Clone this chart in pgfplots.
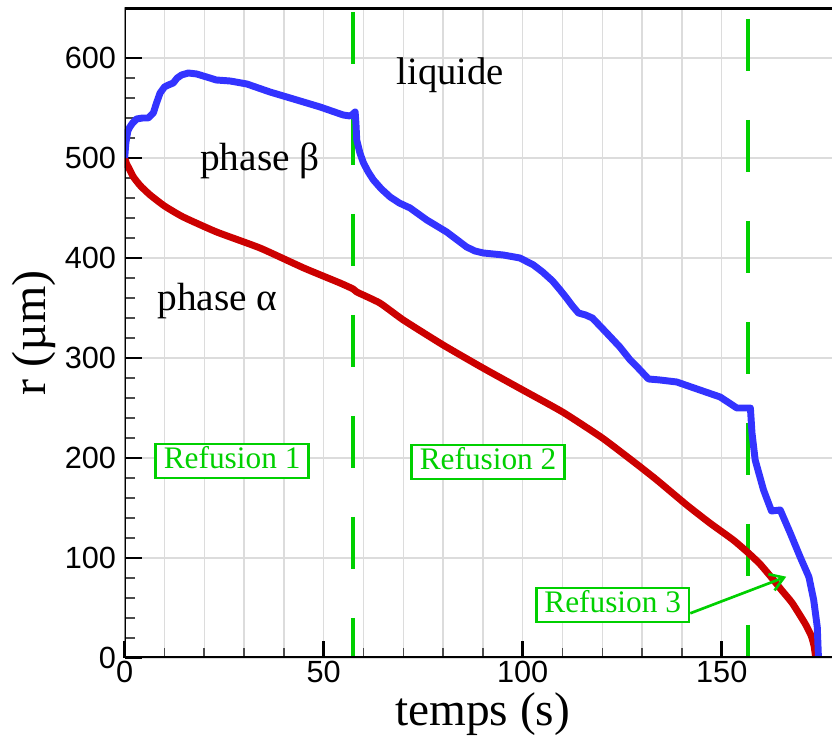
\documentclass[border=0pt]{standalone}
\usepackage{fontspec}
\setmainfont{Liberation Serif}
\newfontfamily\sansf{Liberation Sans}
\usepackage{pgfplots}
\pgfplotsset{compat=1.18}
\usetikzlibrary{arrows.meta}
\definecolor{bluec}{RGB}{51,51,255}
\definecolor{redc}{RGB}{204,0,0}
\definecolor{greenc}{RGB}{0,208,0}
\definecolor{gridc}{RGB}{220,220,220}
\begin{document}
\begin{tikzpicture}
\begin{axis}[
  at={(0,0)}, anchor=south west,
  scale only axis,
  width=530.5pt, height=487.5pt,
  xmin=0, xmax=177.7, ymin=0, ymax=650,
  xtick={0,50,100,150}, ytick={0,100,...,600},
  minor x tick num=4, minor y tick num=4,
  tick pos=left, tick align=inside,
  major tick length=12.75pt, minor tick length=7.5pt,
  every tick/.style={black, line width=2pt},
  every minor tick/.style={black!70, line width=1.2pt},
  xmajorgrids, xminorgrids, ymajorgrids,
  major grid style={gridc, line width=1.1pt},
  minor grid style={gridc, line width=1.1pt},
  axis line style={draw=none},
  /pgf/number format/assume math mode=true,
  ticklabel style={font=\sansf\fontsize{23}{26}\selectfont},
  yticklabel style={xshift=-3pt},
  xticklabel style={yshift=1pt},
  xlabel={temps (s)}, ylabel={r (µm)},
  xlabel style={at={(axis description cs:0.506,-0.1045)}, anchor=base, font=\fontsize{35.5}{38}\selectfont},
  ylabel style={at={(axis description cs:-0.1117,0.5)}, anchor=base, font=\fontsize{36}{40}\selectfont},
  clip=true,
]
% green dashed lines
\addplot[greenc, line width=3pt, dash pattern=on 39pt off 36.75pt] coordinates {(57.4,646) (57.4,0)};
\addplot[greenc, line width=3pt, dash pattern=on 39pt off 36.75pt] coordinates {(156.7,639) (156.7,0)};
% red curve
\addplot[redc, line width=5.2pt, line join=round, smooth, tension=0.3] coordinates {
(0,500) (0.5,494) (0.9,491) (2.2,481) (4,472) (6.4,463) (10,452) (14.7,441)
(23.1,426) (34,410) (45,390) (54.1,375) (57.4,369) (58.3,366) (64.1,355)
(70,338) (80,313) (90,290) (100,268) (110,246) (120,220) (128.6,194)
(133.7,178) (141.2,153) (147,135) (152.9,118) (156.7,105) (159.6,94)
(162.6,80) (165,68) (167.7,55) (171,34) (172.5,22) (173.2,12) (173.6,0)};
% blue curve
\addplot[bluec, line width=5.2pt, line join=round] coordinates {
(0,500) (0.3,515) (0.8,527) (1.3,531) (2,535) (3,539) (4.5,540) (5.9,540)
(7.2,545) (8,555) (8.9,565) (10,571) (11,573) (12.2,575) (13.2,580) (14.3,583)
(16,585) (18.1,584) (21.4,580) (23,578) (26.5,577) (30.7,574) (36.5,566)
(42.4,559) (49.1,551) (54.9,543) (56.6,542) (57.4,544) (57.9,546) (58.1,535)
(58.3,518) (59.1,505) (60,495) (61.2,486) (62.5,478) (64.5,469) (66.7,461)
(69,455) (71.7,450) (75.9,438) (80.9,426) (85.9,411) (88,407) (90.1,405)
(95.1,403) (99.3,400) (102.7,393) (105,386) (107.5,377) (109.4,368) (111,360)
(112.5,352) (114,345) (115.8,343) (117.5,340) (121.1,325) (124.4,311) (127,298)
(129,290) (131.6,279) (134.5,278) (138.7,276) (144.5,268) (149.6,261)
(153.8,250) (155.4,250) (157.2,250) (157.6,225) (158.4,198) (160.5,168)
(162.5,147) (164.7,148) (167.2,125) (169.7,101) (171.9,81) (173.1,58)
(174,31) (174.3,0)};
% frame
\draw[black, line width=2.5pt] (rel axis cs:1,1) -- (rel axis cs:0,1) -- (rel axis cs:0,0) -- (rel axis cs:1,0);
% texts
\node[font=\fontsize{29.5}{32}\selectfont] at (axis cs:34,497) {phase β};
\node[font=\fontsize{29.5}{32}\selectfont] at (axis cs:23.3,356.5) {phase α};
\node[font=\fontsize{29}{32}\selectfont] at (axis cs:81.8,583) {liquide};
\tikzset{refbox/.style={draw=greenc, line width=2pt, fill=white, text=greenc,
  font=\fontsize{23.5}{26}\selectfont, inner xsep=6pt, inner ysep=2.5pt,
  text height=16pt, text depth=4.5pt}}
\node[refbox] at (axis cs:27,197) {Refusion 1};
\node[refbox] at (axis cs:91.3,196) {Refusion 2};
\node[refbox] at (axis cs:122.6,53) {Refusion 3};
\draw[greenc, line width=2pt, -{Straight Barb[length=10pt,width=13pt,line width=2pt]}] (axis cs:142.1,44.7) -- (axis cs:166.2,81.3);
\end{axis}
\pgfresetboundingbox
\useasboundingbox (-93.5pt,-59.25pt) rectangle (530.5pt,493.5pt);
\end{tikzpicture}
\end{document}
